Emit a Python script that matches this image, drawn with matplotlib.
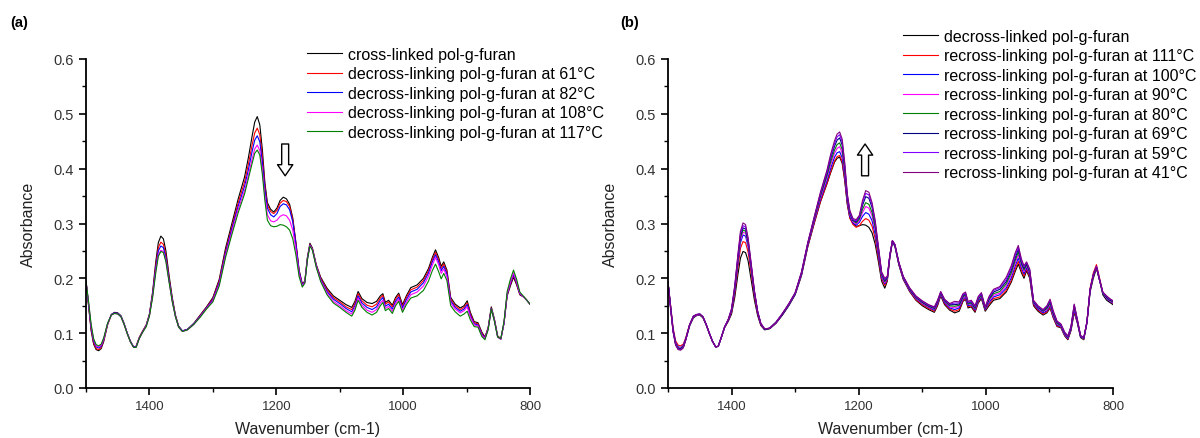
import matplotlib
matplotlib.use('Agg')
import matplotlib.pyplot as plt
from matplotlib.ticker import MultipleLocator, FormatStrFormatter

plt.rcParams['font.family'] = ['Liberation Sans', 'DejaVu Sans']

# wavenumber grid (cm-1) shared by every spectrum
WN = [1500, 1496, 1492, 1488, 1484, 1480, 1476, 1472, 1466, 1460,
      1455, 1450, 1445, 1440, 1435, 1430, 1425, 1421, 1416, 1411,
      1405, 1400, 1395, 1390, 1386, 1382, 1378, 1374, 1369, 1364,
      1359, 1354, 1348, 1340, 1330, 1320, 1310, 1300, 1290, 1280,
      1270, 1260, 1250, 1244, 1238, 1234, 1230, 1226, 1222, 1218,
      1214, 1209, 1204, 1199, 1194, 1189, 1184, 1179, 1174, 1169,
      1164, 1159, 1155, 1151, 1147, 1143, 1137, 1130, 1120, 1110,
      1100, 1090, 1081, 1076, 1071, 1065, 1057, 1049, 1042, 1036,
      1032, 1028, 1023, 1017, 1012, 1007, 1001, 995, 988, 978,
      968, 960, 954, 949, 944, 940, 936, 931, 925, 918,
      910, 904, 899, 894, 888, 882, 876, 871, 866, 861,
      856, 851, 846, 841, 836, 831, 826, 821, 816, 810,
      805, 800]

# (a) decross-linking
A_CROSS = [0.195, 0.150, 0.105, 0.080, 0.070, 0.068, 0.072, 0.085, 0.115, 0.134,
           0.138, 0.137, 0.132, 0.118, 0.100, 0.085, 0.075, 0.076, 0.092, 0.103,
           0.115, 0.135, 0.175, 0.230, 0.265, 0.277, 0.272, 0.250, 0.205, 0.165,
           0.133, 0.113, 0.104, 0.107, 0.118, 0.133, 0.148, 0.165, 0.198, 0.255,
           0.300, 0.345, 0.385, 0.420, 0.460, 0.485, 0.495, 0.480, 0.435, 0.375,
           0.338, 0.326, 0.321, 0.328, 0.342, 0.348, 0.345, 0.335, 0.310, 0.265,
           0.215, 0.190, 0.195, 0.238, 0.264, 0.255, 0.225, 0.202, 0.182, 0.168,
           0.160, 0.152, 0.147, 0.158, 0.176, 0.163, 0.156, 0.154, 0.158, 0.168,
           0.172, 0.156, 0.160, 0.151, 0.165, 0.173, 0.152, 0.168, 0.183, 0.188,
           0.200, 0.218, 0.238, 0.252, 0.238, 0.222, 0.230, 0.215, 0.165, 0.153,
           0.146, 0.150, 0.159, 0.138, 0.121, 0.119, 0.102, 0.093, 0.110, 0.148,
           0.125, 0.095, 0.090, 0.118, 0.168, 0.186, 0.202, 0.188, 0.170, 0.166,
           0.160, 0.153]
A_61 = [0.195, 0.152, 0.108, 0.082, 0.072, 0.070, 0.074, 0.087, 0.116, 0.134,
        0.137, 0.136, 0.131, 0.117, 0.100, 0.085, 0.075, 0.076, 0.092, 0.103,
        0.115, 0.134, 0.172, 0.224, 0.256, 0.266, 0.262, 0.242, 0.200, 0.162,
        0.132, 0.112, 0.104, 0.107, 0.117, 0.132, 0.147, 0.163, 0.195, 0.250,
        0.294, 0.338, 0.376, 0.408, 0.444, 0.465, 0.474, 0.462, 0.422, 0.368,
        0.333, 0.322, 0.318, 0.324, 0.337, 0.342, 0.340, 0.331, 0.307, 0.263,
        0.213, 0.189, 0.194, 0.236, 0.262, 0.254, 0.224, 0.200, 0.179, 0.165,
        0.157, 0.148, 0.143, 0.154, 0.172, 0.159, 0.151, 0.148, 0.153, 0.164,
        0.169, 0.153, 0.157, 0.148, 0.162, 0.170, 0.149, 0.165, 0.179, 0.184,
        0.196, 0.214, 0.234, 0.247, 0.234, 0.218, 0.226, 0.212, 0.162, 0.150,
        0.143, 0.147, 0.155, 0.135, 0.119, 0.117, 0.100, 0.092, 0.109, 0.146,
        0.124, 0.094, 0.089, 0.118, 0.170, 0.189, 0.205, 0.190, 0.171, 0.166,
        0.160, 0.153]
A_82 = [0.195, 0.154, 0.111, 0.085, 0.075, 0.073, 0.076, 0.089, 0.117, 0.134,
        0.137, 0.136, 0.131, 0.117, 0.100, 0.085, 0.075, 0.075, 0.091, 0.102,
        0.114, 0.133, 0.170, 0.219, 0.250, 0.259, 0.256, 0.237, 0.197, 0.160,
        0.131, 0.112, 0.104, 0.107, 0.117, 0.131, 0.146, 0.161, 0.192, 0.246,
        0.290, 0.332, 0.368, 0.398, 0.432, 0.452, 0.460, 0.449, 0.412, 0.362,
        0.328, 0.316, 0.312, 0.318, 0.331, 0.336, 0.334, 0.325, 0.303, 0.261,
        0.212, 0.188, 0.193, 0.235, 0.261, 0.253, 0.223, 0.198, 0.176, 0.162,
        0.154, 0.145, 0.139, 0.150, 0.168, 0.155, 0.147, 0.143, 0.148, 0.160,
        0.165, 0.149, 0.153, 0.144, 0.158, 0.166, 0.146, 0.161, 0.175, 0.180,
        0.192, 0.210, 0.230, 0.243, 0.230, 0.214, 0.222, 0.208, 0.159, 0.147,
        0.140, 0.144, 0.152, 0.132, 0.117, 0.115, 0.098, 0.091, 0.108, 0.145,
        0.123, 0.093, 0.089, 0.118, 0.171, 0.191, 0.207, 0.192, 0.172, 0.166,
        0.160, 0.153]
A_108 = [0.195, 0.156, 0.114, 0.088, 0.077, 0.075, 0.078, 0.090, 0.117, 0.133,
         0.136, 0.135, 0.130, 0.116, 0.099, 0.084, 0.074, 0.074, 0.090, 0.101,
         0.113, 0.132, 0.167, 0.214, 0.243, 0.251, 0.249, 0.232, 0.194, 0.158,
         0.130, 0.111, 0.103, 0.106, 0.116, 0.130, 0.145, 0.159, 0.189, 0.242,
         0.285, 0.326, 0.360, 0.388, 0.418, 0.436, 0.443, 0.433, 0.398, 0.350,
         0.316, 0.305, 0.303, 0.306, 0.313, 0.316, 0.314, 0.306, 0.288, 0.252,
         0.208, 0.186, 0.192, 0.234, 0.260, 0.252, 0.222, 0.196, 0.173, 0.158,
         0.150, 0.141, 0.135, 0.146, 0.164, 0.151, 0.142, 0.138, 0.143, 0.155,
         0.160, 0.145, 0.149, 0.140, 0.154, 0.162, 0.142, 0.156, 0.170, 0.175,
         0.186, 0.204, 0.224, 0.238, 0.225, 0.209, 0.217, 0.203, 0.155, 0.144,
         0.137, 0.141, 0.148, 0.129, 0.115, 0.113, 0.096, 0.090, 0.107, 0.144,
         0.122, 0.093, 0.089, 0.119, 0.172, 0.193, 0.210, 0.194, 0.173, 0.166,
         0.160, 0.153]
A_117 = [0.195, 0.158, 0.117, 0.090, 0.079, 0.077, 0.080, 0.092, 0.118, 0.133,
         0.136, 0.135, 0.130, 0.116, 0.099, 0.084, 0.074, 0.074, 0.090, 0.101,
         0.112, 0.131, 0.165, 0.210, 0.240, 0.249, 0.247, 0.230, 0.193, 0.157,
         0.130, 0.111, 0.103, 0.106, 0.116, 0.129, 0.144, 0.157, 0.186, 0.238,
         0.280, 0.320, 0.354, 0.382, 0.410, 0.428, 0.434, 0.425, 0.390, 0.342,
         0.306, 0.296, 0.294, 0.295, 0.298, 0.297, 0.294, 0.288, 0.272, 0.242,
         0.203, 0.184, 0.191, 0.233, 0.259, 0.251, 0.220, 0.194, 0.170, 0.155,
         0.147, 0.138, 0.131, 0.142, 0.160, 0.147, 0.138, 0.133, 0.138, 0.150,
         0.156, 0.141, 0.145, 0.136, 0.150, 0.158, 0.138, 0.152, 0.164, 0.168,
         0.178, 0.195, 0.214, 0.226, 0.212, 0.199, 0.209, 0.196, 0.150, 0.139,
         0.131, 0.135, 0.140, 0.124, 0.112, 0.111, 0.094, 0.088, 0.106, 0.144,
         0.121, 0.093, 0.090, 0.121, 0.176, 0.198, 0.215, 0.198, 0.175, 0.167,
         0.160, 0.153]

# (b) recross-linking
B_DECROSS = [0.193, 0.150, 0.105, 0.080, 0.071, 0.070, 0.074, 0.088, 0.113, 0.128,
             0.132, 0.133, 0.128, 0.115, 0.099, 0.085, 0.075, 0.076, 0.092, 0.110,
             0.122, 0.135, 0.165, 0.207, 0.237, 0.249, 0.247, 0.232, 0.196, 0.160,
             0.132, 0.114, 0.106, 0.108, 0.118, 0.133, 0.150, 0.170, 0.205, 0.258,
             0.300, 0.340, 0.372, 0.393, 0.412, 0.419, 0.421, 0.410, 0.378, 0.335,
             0.310, 0.300, 0.295, 0.296, 0.298, 0.297, 0.293, 0.283, 0.262, 0.230,
             0.195, 0.182, 0.195, 0.238, 0.266, 0.258, 0.225, 0.198, 0.176, 0.160,
             0.150, 0.143, 0.138, 0.150, 0.168, 0.152, 0.142, 0.137, 0.140, 0.158,
             0.162, 0.146, 0.148, 0.138, 0.155, 0.163, 0.140, 0.150, 0.160, 0.163,
             0.175, 0.193, 0.212, 0.226, 0.210, 0.200, 0.214, 0.200, 0.150, 0.140,
             0.133, 0.137, 0.146, 0.128, 0.112, 0.110, 0.095, 0.088, 0.105, 0.138,
             0.118, 0.092, 0.088, 0.118, 0.175, 0.200, 0.218, 0.196, 0.170, 0.160,
             0.156, 0.152]
B_111 = [0.193, 0.152, 0.110, 0.086, 0.078, 0.077, 0.080, 0.092, 0.116, 0.130,
         0.133, 0.134, 0.129, 0.116, 0.100, 0.085, 0.075, 0.076, 0.093, 0.111,
         0.123, 0.138, 0.172, 0.220, 0.255, 0.267, 0.265, 0.248, 0.208, 0.167,
         0.135, 0.115, 0.107, 0.109, 0.119, 0.134, 0.151, 0.171, 0.206, 0.259,
         0.301, 0.341, 0.373, 0.395, 0.414, 0.422, 0.424, 0.413, 0.380, 0.336,
         0.310, 0.298, 0.293, 0.296, 0.304, 0.309, 0.306, 0.295, 0.272, 0.236,
         0.199, 0.187, 0.197, 0.239, 0.267, 0.259, 0.226, 0.199, 0.177, 0.161,
         0.152, 0.145, 0.140, 0.152, 0.170, 0.154, 0.144, 0.140, 0.143, 0.160,
         0.164, 0.148, 0.150, 0.140, 0.157, 0.165, 0.142, 0.153, 0.163, 0.166,
         0.178, 0.196, 0.216, 0.231, 0.214, 0.204, 0.217, 0.203, 0.152, 0.142,
         0.135, 0.139, 0.148, 0.129, 0.113, 0.111, 0.096, 0.089, 0.106, 0.140,
         0.119, 0.093, 0.089, 0.121, 0.182, 0.210, 0.225, 0.200, 0.174, 0.163,
         0.158, 0.154]
B_100 = [0.193, 0.150, 0.107, 0.083, 0.075, 0.074, 0.078, 0.090, 0.115, 0.130,
         0.133, 0.134, 0.129, 0.116, 0.100, 0.085, 0.075, 0.076, 0.093, 0.111,
         0.124, 0.140, 0.177, 0.228, 0.265, 0.279, 0.277, 0.258, 0.215, 0.171,
         0.137, 0.116, 0.107, 0.109, 0.119, 0.134, 0.151, 0.171, 0.207, 0.261,
         0.304, 0.345, 0.378, 0.401, 0.421, 0.429, 0.431, 0.420, 0.386, 0.340,
         0.313, 0.301, 0.297, 0.302, 0.313, 0.320, 0.317, 0.305, 0.280, 0.242,
         0.202, 0.190, 0.199, 0.240, 0.267, 0.259, 0.227, 0.200, 0.178, 0.163,
         0.154, 0.147, 0.142, 0.154, 0.171, 0.156, 0.146, 0.143, 0.146, 0.162,
         0.166, 0.150, 0.152, 0.142, 0.159, 0.166, 0.143, 0.156, 0.166, 0.170,
         0.182, 0.201, 0.222, 0.237, 0.219, 0.208, 0.220, 0.206, 0.154, 0.144,
         0.137, 0.141, 0.151, 0.131, 0.115, 0.112, 0.097, 0.090, 0.107, 0.143,
         0.120, 0.093, 0.090, 0.120, 0.180, 0.207, 0.222, 0.198, 0.173, 0.163,
         0.158, 0.155]
B_90 = [0.193, 0.149, 0.106, 0.082, 0.074, 0.073, 0.077, 0.090, 0.115, 0.130,
        0.133, 0.134, 0.129, 0.116, 0.100, 0.085, 0.075, 0.076, 0.093, 0.111,
        0.124, 0.141, 0.179, 0.232, 0.270, 0.284, 0.282, 0.262, 0.218, 0.173,
        0.138, 0.116, 0.107, 0.109, 0.119, 0.135, 0.152, 0.172, 0.208, 0.262,
        0.306, 0.348, 0.383, 0.408, 0.428, 0.437, 0.440, 0.428, 0.392, 0.344,
        0.316, 0.303, 0.299, 0.305, 0.320, 0.331, 0.328, 0.314, 0.287, 0.247,
        0.205, 0.192, 0.200, 0.241, 0.268, 0.260, 0.228, 0.201, 0.179, 0.164,
        0.155, 0.148, 0.144, 0.156, 0.172, 0.158, 0.148, 0.146, 0.149, 0.164,
        0.168, 0.152, 0.154, 0.144, 0.161, 0.168, 0.144, 0.159, 0.169, 0.173,
        0.186, 0.206, 0.227, 0.243, 0.223, 0.212, 0.223, 0.209, 0.156, 0.146,
        0.139, 0.143, 0.153, 0.133, 0.117, 0.113, 0.098, 0.091, 0.109, 0.146,
        0.121, 0.094, 0.090, 0.120, 0.180, 0.206, 0.221, 0.197, 0.173, 0.164,
        0.159, 0.156]
B_80 = [0.193, 0.148, 0.105, 0.081, 0.073, 0.072, 0.076, 0.089, 0.115, 0.131,
        0.134, 0.134, 0.129, 0.116, 0.100, 0.085, 0.075, 0.076, 0.093, 0.111,
        0.125, 0.142, 0.181, 0.235, 0.274, 0.288, 0.286, 0.265, 0.220, 0.174,
        0.139, 0.117, 0.107, 0.109, 0.120, 0.135, 0.152, 0.172, 0.209, 0.263,
        0.308, 0.351, 0.387, 0.413, 0.434, 0.444, 0.447, 0.435, 0.397, 0.347,
        0.318, 0.305, 0.301, 0.308, 0.326, 0.338, 0.335, 0.320, 0.292, 0.250,
        0.207, 0.194, 0.201, 0.242, 0.268, 0.260, 0.228, 0.202, 0.180, 0.165,
        0.156, 0.149, 0.145, 0.157, 0.173, 0.159, 0.150, 0.149, 0.151, 0.166,
        0.170, 0.153, 0.155, 0.145, 0.162, 0.169, 0.145, 0.161, 0.172, 0.176,
        0.190, 0.210, 0.232, 0.248, 0.226, 0.215, 0.225, 0.211, 0.157, 0.147,
        0.140, 0.145, 0.155, 0.135, 0.118, 0.114, 0.099, 0.092, 0.110, 0.148,
        0.122, 0.094, 0.090, 0.120, 0.179, 0.205, 0.220, 0.196, 0.173, 0.165,
        0.160, 0.157]
B_69 = [0.193, 0.147, 0.104, 0.080, 0.072, 0.071, 0.075, 0.089, 0.115, 0.131,
        0.134, 0.135, 0.130, 0.116, 0.100, 0.085, 0.075, 0.076, 0.093, 0.111,
        0.125, 0.143, 0.183, 0.238, 0.278, 0.292, 0.290, 0.268, 0.222, 0.175,
        0.139, 0.117, 0.107, 0.109, 0.120, 0.135, 0.153, 0.173, 0.210, 0.264,
        0.310, 0.354, 0.391, 0.419, 0.441, 0.452, 0.456, 0.443, 0.403, 0.350,
        0.320, 0.306, 0.303, 0.311, 0.333, 0.349, 0.346, 0.329, 0.298, 0.254,
        0.209, 0.196, 0.202, 0.242, 0.268, 0.261, 0.229, 0.203, 0.181, 0.166,
        0.157, 0.150, 0.146, 0.158, 0.174, 0.160, 0.152, 0.152, 0.153, 0.168,
        0.172, 0.155, 0.157, 0.147, 0.164, 0.171, 0.146, 0.163, 0.175, 0.180,
        0.194, 0.215, 0.237, 0.253, 0.229, 0.218, 0.227, 0.213, 0.158, 0.148,
        0.141, 0.147, 0.158, 0.137, 0.120, 0.115, 0.100, 0.093, 0.111, 0.150,
        0.123, 0.095, 0.091, 0.120, 0.179, 0.205, 0.220, 0.196, 0.174, 0.166,
        0.161, 0.158]
B_59 = [0.193, 0.146, 0.103, 0.079, 0.071, 0.070, 0.074, 0.088, 0.115, 0.131,
        0.134, 0.135, 0.130, 0.116, 0.100, 0.085, 0.075, 0.076, 0.093, 0.111,
        0.126, 0.144, 0.185, 0.241, 0.282, 0.296, 0.294, 0.271, 0.224, 0.176,
        0.140, 0.118, 0.108, 0.109, 0.120, 0.136, 0.153, 0.173, 0.211, 0.265,
        0.311, 0.356, 0.394, 0.423, 0.446, 0.458, 0.462, 0.449, 0.407, 0.352,
        0.322, 0.307, 0.305, 0.313, 0.338, 0.355, 0.352, 0.334, 0.302, 0.256,
        0.210, 0.198, 0.203, 0.243, 0.269, 0.261, 0.229, 0.203, 0.182, 0.167,
        0.158, 0.151, 0.147, 0.159, 0.175, 0.161, 0.153, 0.155, 0.155, 0.170,
        0.173, 0.156, 0.158, 0.148, 0.165, 0.172, 0.147, 0.165, 0.178, 0.183,
        0.198, 0.219, 0.242, 0.257, 0.232, 0.221, 0.229, 0.215, 0.159, 0.149,
        0.142, 0.149, 0.160, 0.139, 0.121, 0.116, 0.101, 0.094, 0.112, 0.152,
        0.124, 0.095, 0.091, 0.120, 0.179, 0.205, 0.220, 0.196, 0.174, 0.167,
        0.162, 0.159]
B_41 = [0.193, 0.145, 0.102, 0.078, 0.070, 0.069, 0.073, 0.088, 0.115, 0.131,
        0.134, 0.135, 0.130, 0.116, 0.100, 0.085, 0.075, 0.076, 0.093, 0.111,
        0.126, 0.145, 0.187, 0.244, 0.286, 0.301, 0.298, 0.274, 0.226, 0.177,
        0.140, 0.118, 0.108, 0.109, 0.120, 0.136, 0.154, 0.174, 0.212, 0.266,
        0.312, 0.358, 0.397, 0.427, 0.451, 0.463, 0.467, 0.454, 0.411, 0.355,
        0.324, 0.309, 0.307, 0.315, 0.342, 0.360, 0.357, 0.338, 0.305, 0.258,
        0.212, 0.200, 0.204, 0.243, 0.269, 0.262, 0.230, 0.204, 0.183, 0.168,
        0.159, 0.152, 0.148, 0.160, 0.176, 0.162, 0.154, 0.158, 0.157, 0.172,
        0.175, 0.158, 0.160, 0.150, 0.167, 0.174, 0.148, 0.167, 0.180, 0.185,
        0.202, 0.223, 0.246, 0.260, 0.235, 0.223, 0.230, 0.217, 0.160, 0.150,
        0.143, 0.150, 0.162, 0.141, 0.122, 0.117, 0.102, 0.095, 0.113, 0.153,
        0.125, 0.096, 0.092, 0.120, 0.179, 0.205, 0.220, 0.196, 0.175, 0.168,
        0.163, 0.159]

SERIES_A = [
    ('cross-linked pol-g-furan', A_CROSS, 'black'),
    ('decross-linking pol-g-furan at 61°C', A_61, '#ff0000'),
    ('decross-linking pol-g-furan at 82°C', A_82, '#0000ff'),
    ('decross-linking pol-g-furan at 108°C', A_108, '#ff00ff'),
    ('decross-linking pol-g-furan at 117°C', A_117, '#008000'),
]
SERIES_B = [
    ('decross-linked pol-g-furan', B_DECROSS, 'black'),
    ('recross-linking pol-g-furan at 111°C', B_111, '#ff0000'),
    ('recross-linking pol-g-furan at 100°C', B_100, '#0000ff'),
    ('recross-linking pol-g-furan at 90°C', B_90, '#ff00ff'),
    ('recross-linking pol-g-furan at 80°C', B_80, '#008000'),
    ('recross-linking pol-g-furan at 69°C', B_69, '#000080'),
    ('recross-linking pol-g-furan at 59°C', B_59, '#8000ff'),
    ('recross-linking pol-g-furan at 41°C', B_41, '#800080'),
]

W, H = 1200, 439
fig = plt.figure(figsize=(W / 100, H / 100), dpi=100)


def px_box(x0, x1, ytop, ybot):
    return [x0 / W, 1 - ybot / H, (x1 - x0) / W, (ybot - ytop) / H]


def panel(rect, series, legend_xy, arrow_tail, arrow_tip):
    ax = fig.add_axes(rect)
    for label, y, c in series:
        ax.plot(WN, y, color=c, lw=0.8, label=label)
    ax.set_xlim(1500, 800)
    ax.set_ylim(0, 0.6)
    for s in ('top', 'right'):
        ax.spines[s].set_visible(False)
    for s in ('left', 'bottom'):
        ax.spines[s].set_linewidth(1.3)
    ax.xaxis.set_major_locator(MultipleLocator(200))
    ax.xaxis.set_minor_locator(MultipleLocator(100))
    ax.yaxis.set_major_locator(MultipleLocator(0.1))
    ax.yaxis.set_minor_locator(MultipleLocator(0.05))
    ax.yaxis.set_major_formatter(FormatStrFormatter('%.1f'))
    ax.tick_params(which='major', length=5, width=1.2, labelcolor='#333333')
    ax.tick_params(which='minor', length=3, width=1.0)
    ax.tick_params(axis='x', labelsize=9.5, pad=4)
    ax.tick_params(axis='y', labelsize=10.5, pad=4)
    ax.set_xlabel('Wavenumber (cm-1)', fontsize=11.5, color='#222222', labelpad=6)
    ax.set_ylabel('Absorbance', fontsize=11.5, color='#222222', labelpad=12)
    ax.legend(loc='upper left', frameon=False, fontsize=11.5,
              bbox_to_anchor=(legend_xy[0] / W, 1 - legend_xy[1] / H),
              bbox_transform=fig.transFigure, borderpad=0, borderaxespad=0,
              handlelength=2.2, handletextpad=0.35, labelspacing=0.28)
    ax.annotate('', xy=arrow_tip, xytext=arrow_tail,
                arrowprops=dict(arrowstyle='simple,head_length=0.8,head_width=1.1,tail_width=0.5',
                                fc='white', ec='black', lw=1.0,
                                shrinkA=0, shrinkB=0, mutation_scale=10))
    return ax


panel(px_box(86, 530, 60, 389), SERIES_A, (307, 48),
      (1186, 0.445), (1186, 0.387))
panel(px_box(668, 1113, 60, 389), SERIES_B, (903, 30),
      (1190, 0.387), (1190, 0.445))

fig.text(10 / W, 1 - 23 / H, '(a)', fontsize=10.5, fontweight='bold', va='center')
fig.text(620 / W, 1 - 23 / H, '(b)', fontsize=10.5, fontweight='bold', va='center')

fig.savefig('out.png', dpi=100)
